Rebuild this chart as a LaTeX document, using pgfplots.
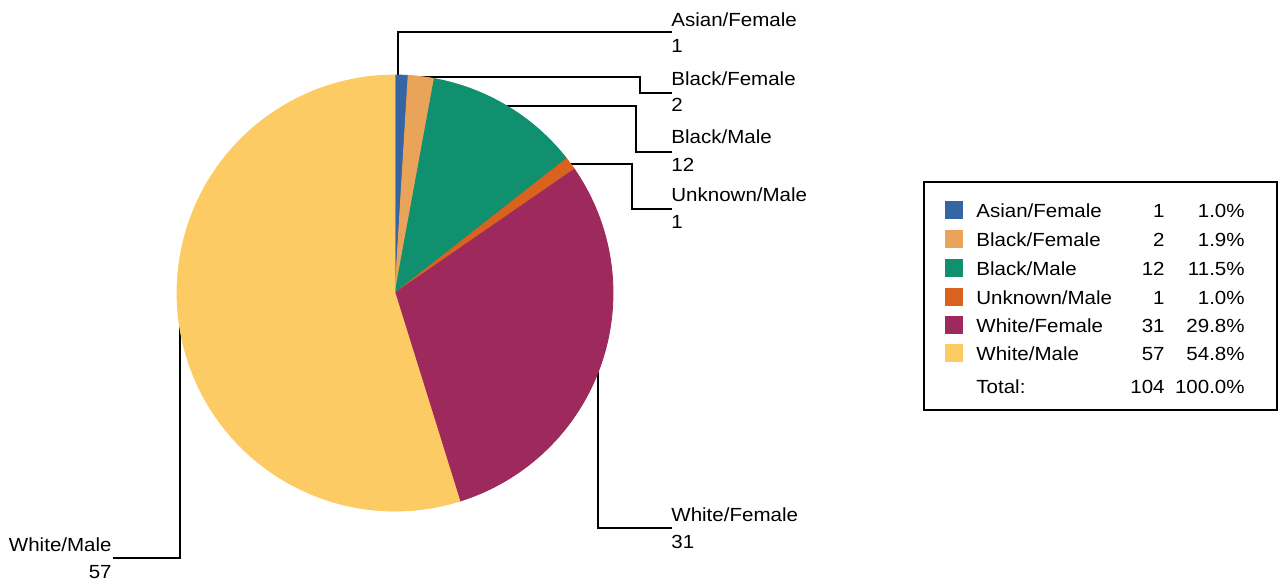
\documentclass[border=0pt]{standalone}
\usepackage{pgfplots}
\usepackage{pgfplotstable}
\pgfplotsset{compat=1.18}
\usepackage{fontspec}
\setmainfont{Liberation Sans}[FakeStretch=1.08]

\definecolor{pie0}{HTML}{3566A3}
\definecolor{pie1}{HTML}{EAA459}
\definecolor{pie2}{HTML}{11906F}
\definecolor{pie3}{HTML}{D9621F}
\definecolor{pie4}{HTML}{9E2A5D}
\definecolor{pie5}{HTML}{FDCB63}

% pie slices: cumulative start and value (total 104), centre in pixel coords
\pgfplotstableread{
x   y   col  start value
395 293 pie0 0     1
395 293 pie1 1     2
395 293 pie2 3     12
395 293 pie3 15    1
395 293 pie4 16    31
395 293 pie5 47    57
}\piedata

\newcommand\legrow[5]{%
    \fill[#2] (axis cs:945,#1-16) rectangle (axis cs:963,#1+2);
    \node[anchor=base west, inner sep=0] at (axis cs:976,#1) {#3};
    \node[anchor=base east, inner sep=0] at (axis cs:1165,#1) {#4};
    \node[anchor=base east, inner sep=0] at (axis cs:1245,#1) {#5\%};
}

\begin{document}
\fontsize{9.5pt}{11pt}\selectfont
\begin{tikzpicture}
\begin{axis}[
    scale only axis,
    width=644pt, height=292.5pt,
    xmin=0, xmax=1288, ymin=0, ymax=585,
    y dir=reverse,
    hide axis,
    clip=false,
]
    % slices
    \addplot[
        scatter, only marks, mark=*, mark size=0pt,
        mark options={draw=none, fill=none},
        point meta=explicit symbolic,
        visualization depends on={\thisrow{start} \as \pstart},
        visualization depends on={\thisrow{value} \as \pval},
        scatter/@pre marker code/.code={%
            \pgfmathsetmacro\angA{90-\pstart/104*360}%
            \pgfmathsetmacro\angB{90-(\pstart+\pval)/104*360}%
            \fill[\pgfplotspointmeta] (0,0) -- (\angA:109pt)
                arc[start angle=\angA, end angle=\angB, radius=109pt] -- cycle;
        },
        scatter/@post marker code/.code={},
    ] table[x=x, y=y, meta=col] \piedata;

    % leader lines
    \addplot[black, line width=0.75pt] coordinates {(398,75) (398,32) (672,32)};
    \addplot[black, line width=0.75pt] coordinates {(419,77) (640,77) (640,93) (672,93)};
    \addplot[black, line width=0.75pt] coordinates {(507,106) (636,106) (636,152) (672,152)};
    \addplot[black, line width=0.75pt] coordinates {(567,164) (632,164) (632,209) (672,209)};
    \addplot[black, line width=0.75pt] coordinates {(599,364) (598,364) (598,528) (672,528)};
    \addplot[black, line width=0.75pt] coordinates {(180,326) (180,558) (113,558)};

    % slice labels
    \node[anchor=base west, inner sep=0] at (axis cs:671,26) {Asian/Female};
    \node[anchor=base west, inner sep=0] at (axis cs:671,52) {1};
    \node[anchor=base west, inner sep=0] at (axis cs:671,85) {Black/Female};
    \node[anchor=base west, inner sep=0] at (axis cs:671,111) {2};
    \node[anchor=base west, inner sep=0] at (axis cs:671,143) {Black/Male};
    \node[anchor=base west, inner sep=0] at (axis cs:671,171) {12};
    \node[anchor=base west, inner sep=0] at (axis cs:671,201) {Unknown/Male};
    \node[anchor=base west, inner sep=0] at (axis cs:671,228) {1};
    \node[anchor=base west, inner sep=0] at (axis cs:671,521) {White/Female};
    \node[anchor=base west, inner sep=0] at (axis cs:671,548) {31};
    \node[anchor=base east, inner sep=0] at (axis cs:112,551) {White/Male};
    \node[anchor=base east, inner sep=0] at (axis cs:112,578) {57};

    % legend table
    \draw[black, line width=0.8pt] (axis cs:924,182) rectangle (axis cs:1277,410);
    \legrow{217}{pie0}{Asian/Female}{1}{1.0}
    \legrow{246}{pie1}{Black/Female}{2}{1.9}
    \legrow{275}{pie2}{Black/Male}{12}{11.5}
    \legrow{304}{pie3}{Unknown/Male}{1}{1.0}
    \legrow{332}{pie4}{White/Female}{31}{29.8}
    \legrow{360}{pie5}{White/Male}{57}{54.8}
    \node[anchor=base west, inner sep=0] at (axis cs:976,393) {Total:};
    \node[anchor=base east, inner sep=0] at (axis cs:1165,393) {104};
    \node[anchor=base east, inner sep=0] at (axis cs:1245,393) {100.0\%};
\end{axis}
\pgfresetboundingbox
\path[use as bounding box] (current axis.south west) rectangle (current axis.north east);
\end{tikzpicture}
\end{document}
